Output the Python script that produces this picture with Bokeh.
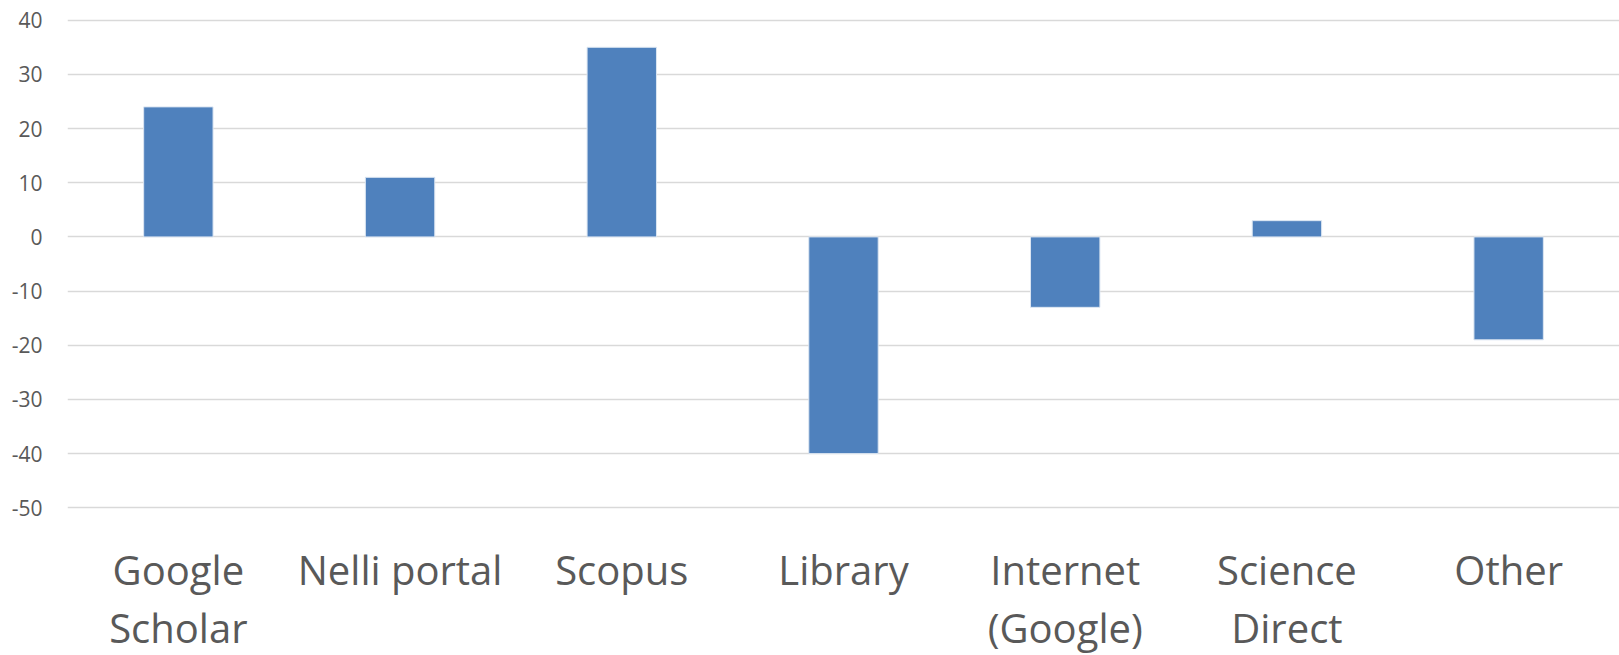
from bokeh.plotting import figure
from bokeh.models import Range1d, FixedTicker, ColumnDataSource, PrintfTickFormatter
from bokeh.embed import file_html
from bokeh.resources import INLINE

categories = ["Google Scholar", "Nelli portal", "Scopus", "Library", "Internet (Google)", "Science Direct", "Other"]
values = [24, 11, 35, -40, -13, 3, -19]
category_labels = ["Google\nScholar", "Nelli portal", "Scopus", "Library", "Internet\n(Google)", "Science\nDirect", "Other"]
y_ticks = [-50, -40, -30, -20, -10, 0, 10, 20, 30, 40]

positions = list(range(len(categories)))
src = ColumnDataSource(dict(pos=positions, cat=categories, val=values))

p = figure(frame_width=1552, frame_height=493, x_range=Range1d(-0.5, len(categories) - 0.5),
           y_range=Range1d(-50.5, 40.5), output_backend="svg", toolbar_location=None,
           min_border_left=67, min_border_right=0, min_border_top=17, min_border_bottom=120)
p.outline_line_color = None
p.vbar(x="pos", top="val", bottom=0, width=0.313, source=src, fill_color="#4f81bd", line_color="#dce6f2", line_width=1)

p.yaxis.ticker = FixedTicker(ticks=y_ticks)
p.yaxis.formatter = PrintfTickFormatter(format="%d")
p.yaxis.axis_line_color = None
p.yaxis.major_tick_line_color = None
p.yaxis.minor_tick_line_color = None
p.yaxis.major_label_text_font = "Open Sans"
p.yaxis.major_label_text_font_size = "21px"
p.yaxis.major_label_text_color = "#595959"
p.yaxis.major_label_standoff = 19

ax = p.xaxis[0]
ax.ticker = FixedTicker(ticks=positions)
ax.major_label_overrides = {i: t for i, t in zip(positions, category_labels)}
ax.axis_line_color = None
ax.major_tick_line_color = None
ax.minor_tick_line_color = None
ax.major_label_text_font = "Open Sans"
ax.major_label_text_font_size = "40px"
ax.major_label_text_color = "#595959"
ax.major_label_standoff = 25
ax.major_label_text_line_height = 1.06

p.xgrid.grid_line_color = None
p.ygrid.grid_line_color = "#d9d9d9"
p.ygrid.grid_line_width = 1.5

open("out.html", "w").write(file_html(p, INLINE))
